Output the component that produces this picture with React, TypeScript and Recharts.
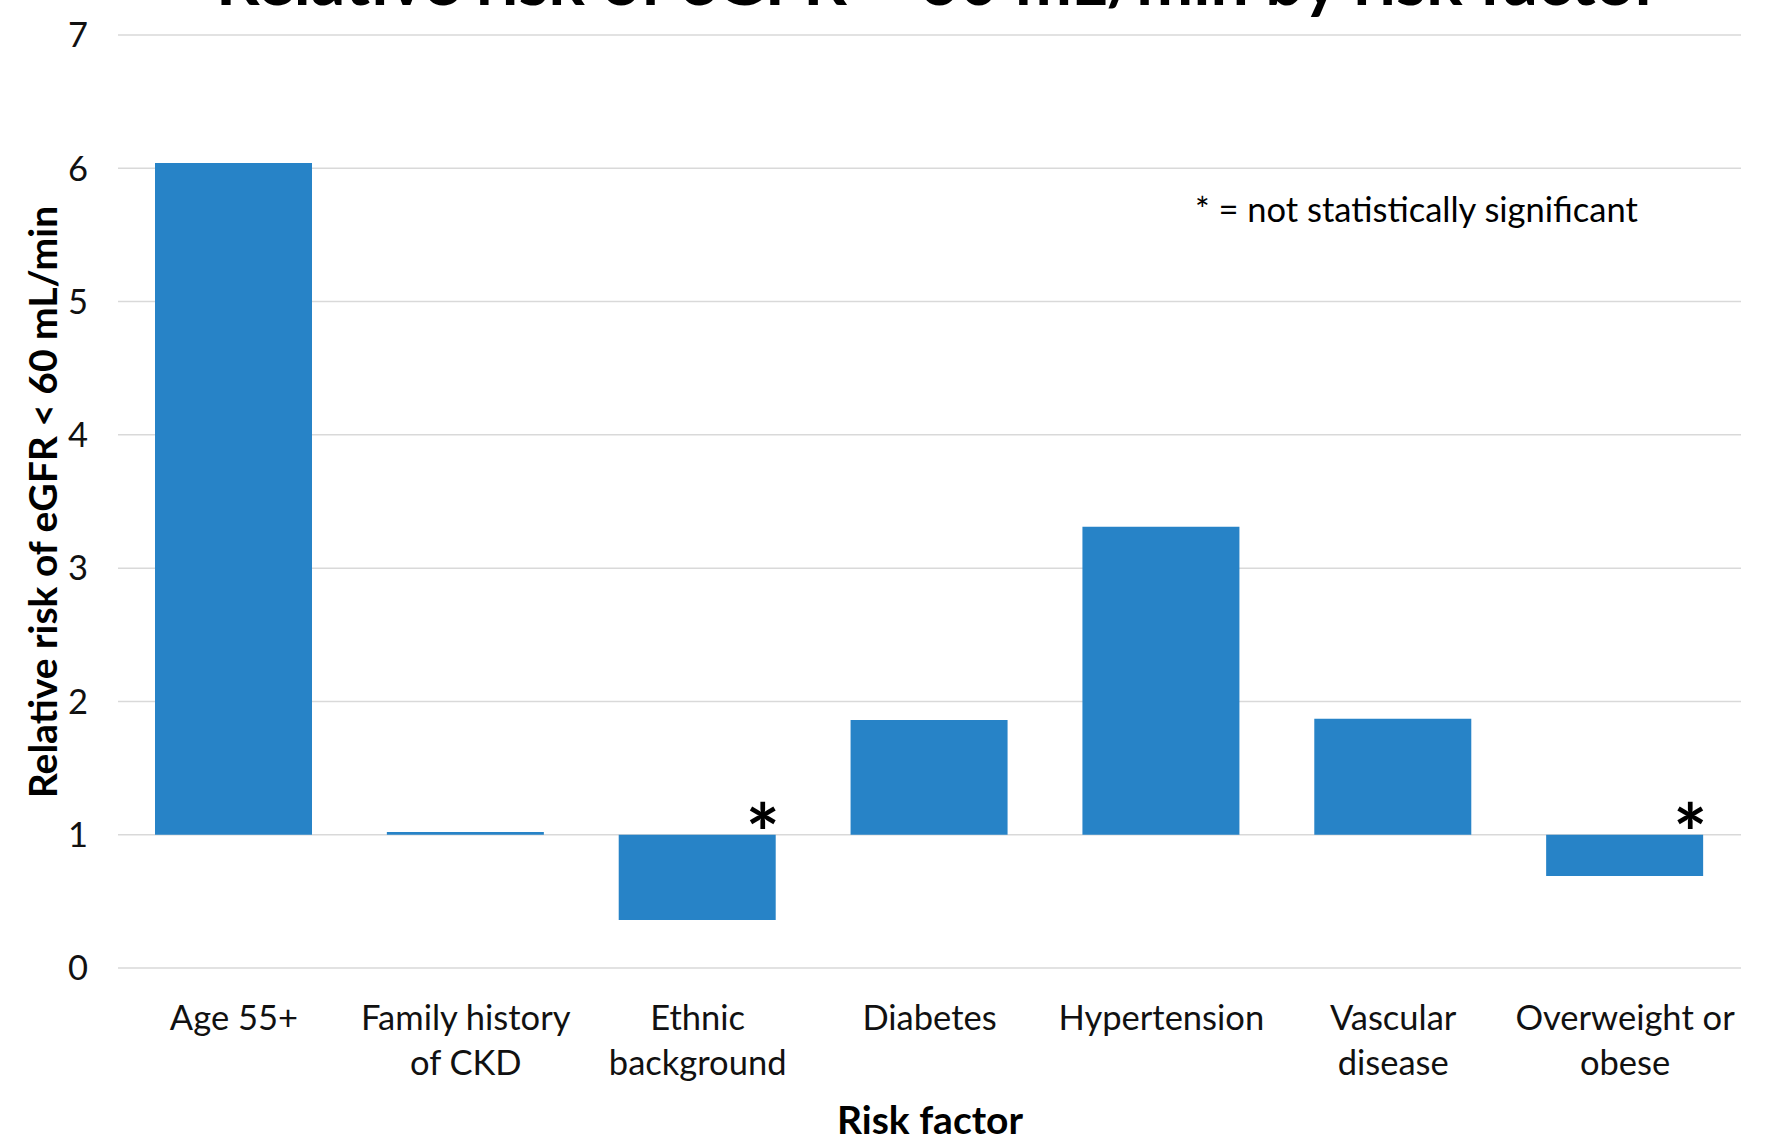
import React from "react";
import { BarChart, Bar, XAxis, YAxis, CartesianGrid, LabelList } from "recharts";

const categories = [
  "Age 55+",
  "Family history\nof CKD",
  "Ethnic\nbackground",
  "Diabetes",
  "Hypertension",
  "Vascular\ndisease",
  "Overweight or\nobese",
];
const relativeRisk = [6.04, 1.02, 0.36, 1.86, 3.31, 1.87, 0.69];
const notSignificant = [false, false, true, false, false, false, true];
const yTicks = [0, 1, 2, 3, 4, 5, 6, 7];
const baseline = 1;

const data = categories.map((name, i) => ({
  name,
  range: [Math.min(baseline, relativeRisk[i]), Math.max(baseline, relativeRisk[i])],
  star: notSignificant[i] ? "*" : "",
}));

const FONT = "Lato, 'Open Sans', sans-serif";
const W = 1767;
const H = 1142;

const CatTick = (props: any) => {
  const { x, y, payload } = props;
  const lines = String(payload.value).split("\n");
  return (
    <text x={x} y={y} textAnchor="middle" fontFamily={FONT} fontSize={34.5} fill="#111">
      {lines.map((l, i) => (
        <tspan key={i} x={x} y={y + 60 + i * 45}>
          {l}
        </tspan>
      ))}
    </text>
  );
};

const StarLabel = (props: any) => {
  const { x, y, width, value } = props;
  if (!value) return null;
  return (
    <text x={x + width - 13} y={y + 28} textAnchor="middle" fontFamily={FONT} fontWeight={700} fontSize={80} fill="#000">
      {value}
    </text>
  );
};

export default function App() {
  return (
    <div style={{ position: "absolute", left: 0, top: 0, width: W, height: H, background: "#fff", overflow: "hidden" }}>
      <BarChart
        width={W}
        height={H}
        data={data}
        margin={{ top: 35, right: 26, bottom: 0, left: 0 }}
        barSize={157}
      >
        <CartesianGrid vertical={false} stroke="#d9d9d9" strokeWidth={1.5} />
        <XAxis
          dataKey="name"
          axisLine={false}
          tickLine={false}
          tickSize={0}
          height={174}
          interval={0}
          tick={<CatTick />}
        />
        <YAxis
          domain={[0, 7]}
          ticks={yTicks}
          width={118}
          axisLine={false}
          tickLine={false}
          tickSize={0}
          tickMargin={30}
          tick={{ fontFamily: FONT, fontSize: 34.5, fill: "#111" }}
        />
        <Bar dataKey="range" fill="#2783c7" isAnimationActive={false}>
          <LabelList dataKey="star" content={<StarLabel />} />
        </Bar>
      </BarChart>
      <div
        style={{
          position: "absolute",
          left: 938,
          top: -55,
          transform: "translateX(-50%)",
          whiteSpace: "nowrap",
          fontFamily: FONT,
          fontWeight: 700,
          fontSize: 68,
          color: "#000",
          lineHeight: "68px",
        }}
      >
        Relative risk of eGFR &lt; 60 mL/min by risk factor
      </div>
      <div
        style={{
          position: "absolute",
          left: 42,
          top: 502,
          transform: "translate(-50%, -50%) rotate(-90deg)",
          whiteSpace: "nowrap",
          fontFamily: FONT,
          fontWeight: 700,
          fontSize: 39,
          color: "#000",
        }}
      >
        Relative risk of eGFR &lt; 60 mL/min
      </div>
      <div
        style={{
          position: "absolute",
          left: 930,
          top: 1119,
          transform: "translate(-50%, -50%)",
          whiteSpace: "nowrap",
          fontFamily: FONT,
          fontWeight: 700,
          fontSize: 39,
          color: "#000",
        }}
      >
        Risk factor
      </div>
      <div
        style={{
          position: "absolute",
          left: 1195,
          top: 208,
          transform: "translateY(-50%)",
          whiteSpace: "nowrap",
          fontFamily: FONT,
          fontSize: 34.5,
          color: "#000",
        }}
      >
        * = not statistically significant
      </div>
    </div>
  );
}
